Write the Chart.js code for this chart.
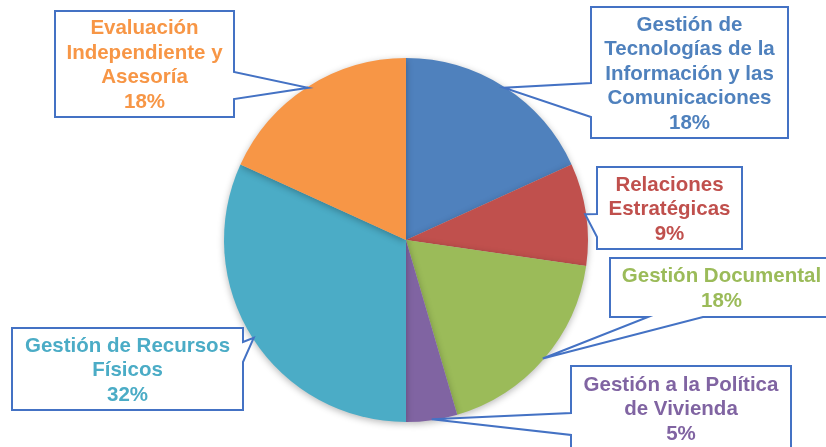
<!DOCTYPE html>
<html>
<head>
<meta charset="utf-8">
<script src="https://cdn.jsdelivr.net/npm/chart.js@4"></script>
<style>
  html, body { margin: 0; padding: 0; background: #fff; }
  #box { width: 826px; height: 447px; position: relative; }
</style>
</head>
<body>
<div id="box"><canvas id="chart"></canvas></div>
<script>
// Pie chart with Excel-style wedge callouts
const categories = [
  ['Gestión de', 'Tecnologías de la', 'Información y las', 'Comunicaciones'],
  ['Relaciones', 'Estratégicas'],
  ['Gestión Documental'],
  ['Gestión a la Política', 'de Vivienda'],
  ['Gestión de Recursos', 'Físicos'],
  ['Evaluación', 'Independiente y', 'Asesoría']
];
const counts = [4, 2, 4, 1, 7, 4];
const colors = ['#4F81BD', '#C0504D', '#9BBB59', '#8064A2', '#4BACC6', '#F79646'];

// callout boxes: rect + side of the wedge + where the wedge meets the edge
const callouts = [
  { x: 591, y: 7,   w: 197, h: 131, side: 'left',   a: 83,  b: 117 },
  { x: 597, y: 167, w: 145, h: 82,  side: 'left',   a: 214, b: 237 },
  { x: 610, y: 258, w: 240, h: 59,  side: 'bottom', a: 648, b: 703, cx: 721.5 },
  { x: 571, y: 366, w: 220, h: 84,  side: 'left',   a: 413, b: 435 },
  { x: 12,  y: 328, w: 231, h: 82,  side: 'right',  a: 342, b: 362 },
  { x: 55,  y: 11,  w: 179, h: 106, side: 'right',  a: 72,  b: 99 }
];

const total = counts.reduce((s, v) => s + v, 0);

const shadowPlugin = {
  id: 'shadow',
  beforeDatasetsDraw(chart) {
    const ctx = chart.ctx;
    ctx.save();
    ctx.shadowColor = 'rgba(0,0,0,0.28)';
    ctx.shadowBlur = 7;
    ctx.shadowOffsetY = 2;
  },
  afterDatasetsDraw(chart) { chart.ctx.restore(); }
};

const calloutPlugin = {
  id: 'callouts',
  afterDraw(chart) {
    const ctx = chart.ctx;
    const arcs = chart.getDatasetMeta(0).data;
    arcs.forEach((arc, i) => {
      const p = arc.getProps(['x', 'y', 'startAngle', 'endAngle', 'outerRadius'], true);
      const mid = (p.startAngle + p.endAngle) / 2;
      const r = p.outerRadius - 1;
      const tx = p.x + Math.cos(mid) * r, ty = p.y + Math.sin(mid) * r;
      const c = callouts[i];
      const R = c.x + c.w, B = c.y + c.h;

      ctx.save();
      ctx.beginPath();
      ctx.moveTo(c.x, c.y);
      ctx.lineTo(R, c.y);
      if (c.side === 'right') { ctx.lineTo(R, c.a); ctx.lineTo(tx, ty); ctx.lineTo(R, c.b); }
      ctx.lineTo(R, B);
      if (c.side === 'bottom') { ctx.lineTo(c.b, B); ctx.lineTo(tx, ty); ctx.lineTo(c.a, B); }
      ctx.lineTo(c.x, B);
      if (c.side === 'left') { ctx.lineTo(c.x, c.b); ctx.lineTo(tx, ty); ctx.lineTo(c.x, c.a); }
      ctx.closePath();
      ctx.fillStyle = '#fff';
      ctx.fill();
      ctx.lineWidth = 2;
      ctx.strokeStyle = '#4472C4';
      ctx.lineJoin = 'miter';
      ctx.stroke();

      const lines = categories[i].concat([Math.round(counts[i] / total * 100) + '%']);
      const lh = 24.5;
      const cx = c.cx || (c.x + c.w / 2);
      const cy = Math.min(c.y + c.h / 2, 410) + 1.5;
      ctx.font = 'bold 20.5px "Liberation Sans", Arial, sans-serif';
      ctx.textAlign = 'center';
      ctx.textBaseline = 'middle';
      ctx.fillStyle = colors[i];
      lines.forEach((t, k) => {
        ctx.fillText(t, cx, cy + (k - (lines.length - 1) / 2) * lh);
      });
      ctx.restore();
    });
  }
};

new Chart(document.getElementById('chart'), {
  type: 'pie',
  data: {
    labels: categories.map(l => l.join(' ')),
    datasets: [{ data: counts, backgroundColor: colors, borderWidth: 0 }]
  },
  options: {
    responsive: true, maintainAspectRatio: false, animation: false,
    devicePixelRatio: 1,
    layout: { padding: { left: 224, right: 238, top: 58, bottom: 25 } },
    plugins: { legend: { display: false }, tooltip: { enabled: false } }
  },
  plugins: [shadowPlugin, calloutPlugin]
});
</script>
</body>
</html>
